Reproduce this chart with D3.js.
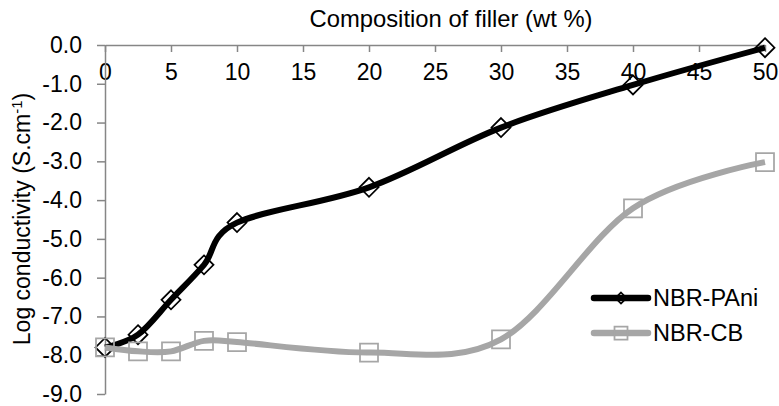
<!DOCTYPE html>
<html>
<head>
<meta charset="utf-8">
<script src="https://cdn.jsdelivr.net/npm/d3@7"></script>
<style>
  body { margin: 0; background: #fff; }
  svg { display: block; font-family: "Liberation Sans", Arial, sans-serif; }
  .axis path, .axis line { stroke: #868686; stroke-width: 1.5; }
  .axis text { fill: #000; font-size: 23px; font-family: "Liberation Sans", Arial, sans-serif; }
</style>
</head>
<body>
<svg width="779" height="406"></svg>
<script>
// the data
const composition = [0, 2.5, 5, 7.5, 10, 20, 30, 40, 50];
const pani = [-7.8, -7.47, -6.57, -5.67, -4.58, -3.67, -2.13, -1.03, -0.07];
const cb = [-7.8, -7.9, -7.9, -7.63, -7.66, -7.93, -7.59, -4.21, -3.02];
const xTicks = [0, 5, 10, 15, 20, 25, 30, 35, 40, 45, 50];
const yTicks = [0, -1, -2, -3, -4, -5, -6, -7, -8, -9];
const seriesNames = ["NBR-PAni", "NBR-CB"];

const svg = d3.select("svg");

const x = d3.scaleLinear().domain([0, 50]).range([105, 765]);
const y = d3.scaleLinear().domain([-9, 0]).range([394, 45]);

//////////// AXES ////////////

svg.append("g")
  .attr("class", "axis")
  .attr("transform", `translate(0,${y(0)})`)
  .call(d3.axisBottom(x).tickValues(xTicks).tickSize(7).tickSizeOuter(0).tickPadding(12))
  .selectAll("text").attr("dy", "0.71em");

svg.append("g")
  .attr("class", "axis")
  .attr("transform", `translate(${x(0)},0)`)
  .call(d3.axisLeft(y).tickValues(yTicks).tickSize(8).tickSizeOuter(0).tickPadding(15)
    .tickFormat((d) => d.toFixed(1)));

svg.append("text")
  .attr("x", 451)
  .attr("y", 27)
  .attr("text-anchor", "middle")
  .attr("font-size", 23.8)
  .text("Composition of filler (wt %)");

const yTitle = svg.append("text")
  .attr("transform", "translate(30,219) rotate(-90)")
  .attr("text-anchor", "middle")
  .attr("font-size", 23);
yTitle.append("tspan").text("Log conductivity (S.cm");
yTitle.append("tspan").attr("dy", -8).attr("font-size", 15).text("-1");
yTitle.append("tspan").attr("dy", 8).text(")");

//////////// SERIES ////////////

// marker shapes
const diamond = (r) => `M0,${-r}L${r},0L0,${r}L${-r},0Z`;
const square = (r) => `M${-r},${-r}H${r}V${r}H${-r}Z`;

const series = [
  { name: seriesNames[0], values: pani, color: "#000", shape: diamond, r: 9.5, lr: 5.5 },
  { name: seriesNames[1], values: cb, color: "#a6a6a6", shape: square, r: 9, lr: 6.5 },
];

const line = d3.line()
  .x((d) => x(d[0]))
  .y((d) => y(d[1]))
  .curve(d3.curveCardinal.tension(0));

series.forEach((s) => {
  const pts = composition.map((c, i) => [c, s.values[i]]);
  const g = svg.append("g");
  g.append("path")
    .attr("d", line(pts))
    .attr("fill", "none")
    .attr("stroke", s.color)
    .attr("stroke-width", 6);
  g.selectAll("path.marker")
    .data(pts)
    .enter()
    .append("path")
    .attr("class", "marker")
    .attr("transform", (d) => `translate(${x(d[0])},${y(d[1])})`)
    .attr("d", s.shape(s.r))
    .attr("fill", "none")
    .attr("stroke", s.color)
    .attr("stroke-width", 1.75);
});

//////////// LEGEND ////////////

const legend = svg.append("g")
  .selectAll("g")
  .data(series)
  .enter()
  .append("g")
  .attr("transform", (d, i) => `translate(0,${298 + i * 35})`);

legend.append("line")
  .attr("x1", 594)
  .attr("x2", 648)
  .attr("stroke", (d) => d.color)
  .attr("stroke-width", 6.5)
  .attr("stroke-linecap", "round");

legend.append("path")
  .attr("transform", "translate(621,0)")
  .attr("d", (d) => d.shape(d.lr))
  .attr("fill", "none")
  .attr("stroke", (d) => d.color)
  .attr("stroke-width", 1.75);

legend.append("text")
  .attr("x", 653)
  .attr("dy", "0.35em")
  .attr("font-size", 23.5)
  .text((d) => d.name);
</script>
</body>
</html>
